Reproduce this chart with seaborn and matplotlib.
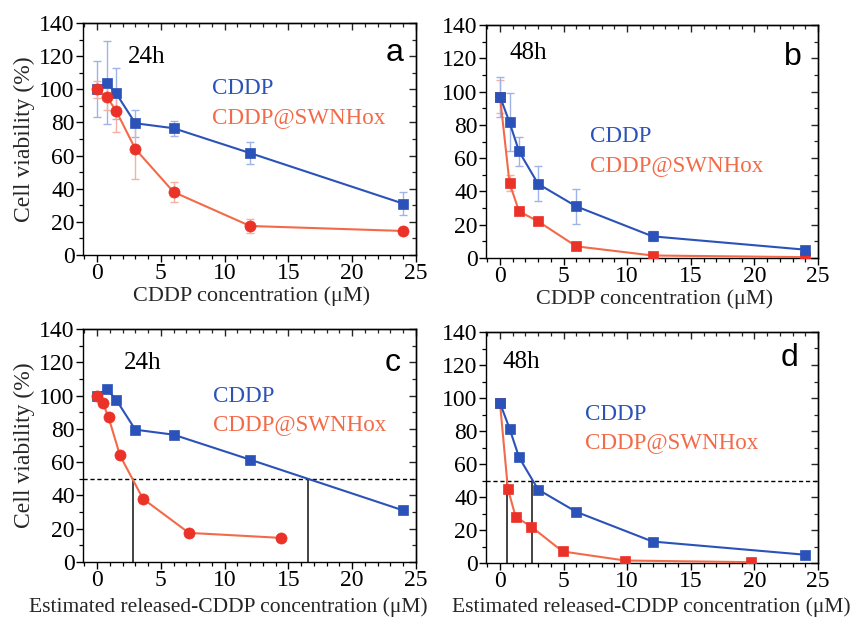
import numpy as np
import pandas as pd
import matplotlib
matplotlib.use("Agg")
import matplotlib.pyplot as plt
from matplotlib.ticker import MultipleLocator
import seaborn as sns

sns.set_theme(style="white")
plt.rcParams['font.family'] = ['Liberation Serif', 'DejaVu Serif']
plt.rcParams['mathtext.fontset'] = 'stix'

# ---------------- data ----------------
conc = [0, 0.75, 1.5, 3, 6, 12, 24]

# 24 h
cddp_24 = [100, 104, 97.5, 79.5, 76.5, 61.5, 31]
cddp_24_err = [17, 25, 15.5, 8, 4.5, 6.5, 7]
swnh_24 = [100, 95.5, 87, 64, 38, 17.5, 14.5]
swnh_24_err = [5, 8, 13, 18, 6, 4.5, 1]

# 48 h
cddp_48 = [97, 81.5, 64, 44.5, 31, 13, 5]
cddp_48_err = [12, 17.5, 9, 10.5, 10.5, 3, 1.5]
swnh_48 = [97, 45, 28, 22, 7, 1.5, 0.5]
swnh_48_err = [10, 5, 2, 1.5, 1, 1, 0.5]

# estimated released CDDP concentrations for CDDP@SWNHox
released_24 = [0, 0.45, 0.9, 1.8, 3.6, 7.2, 14.4]
released_48 = [0, 0.62, 1.23, 2.46, 4.92, 9.84, 19.7]

# IC50 guide lines
ic50_c = [2.85, 16.5]
ic50_d = [0.55, 2.5]

BLUE = "#2a52b8"
RED_M = "#ea3228"
RED_L = "#f36a48"
BLUE_E = "#9fb3e6"
RED_E = "#f4b0a0"

fig = plt.figure(figsize=(8.58, 6.19), dpi=100)
W, H = 858, 619


def make_ax(l, t, r, b):
    return fig.add_axes([l / W, 1 - b / H, (r - l) / W, (b - t) / H])


axs = {
    'a': make_ax(83, 23, 416, 255),
    'b': make_ax(486, 25, 818, 258),
    'c': make_ax(83, 329, 416, 562),
    'd': make_ax(486, 332, 818, 563),
}

FS = 17


def style(ax):
    ax.set_xlim(-1.1, 25)
    ax.set_ylim(0, 140)
    ax.xaxis.set_major_locator(MultipleLocator(5))
    ax.xaxis.set_minor_locator(MultipleLocator(1))
    ax.yaxis.set_major_locator(MultipleLocator(20))
    ax.yaxis.set_minor_locator(MultipleLocator(10))
    ax.tick_params(which='both', direction='out', bottom=True, left=True,
                   top=False, right=False, labelsize=FS, colors='black', pad=1)
    ax.tick_params(which='major', length=5, width=1.0)
    ax.tick_params(which='minor', length=3, width=0.9)
    for s in ax.spines.values():
        s.set_color('black')
        s.set_linewidth(1.0)
    sec = ax.secondary_xaxis('top')
    sec.xaxis.set_major_locator(MultipleLocator(5))
    sec.xaxis.set_minor_locator(MultipleLocator(1))
    sec.tick_params(which='both', direction='in', labeltop=False)
    sec.tick_params(which='major', length=5, width=1.0)
    sec.tick_params(which='minor', length=3, width=0.9)
    sec.spines['top'].set_linewidth(1.0)
    secy = ax.secondary_yaxis('right')
    secy.yaxis.set_major_locator(MultipleLocator(20))
    secy.yaxis.set_minor_locator(MultipleLocator(10))
    secy.tick_params(which='both', direction='in', labelright=False)
    secy.tick_params(which='major', length=5, width=1.0)
    secy.tick_params(which='minor', length=3, width=0.9)
    secy.spines['right'].set_linewidth(1.0)
    ax.grid(False)


def series(ax, x, y, err, color_line, color_marker, ecolor, marker, ms, z):
    if err is not None:
        ax.errorbar(x, y, yerr=err, fmt='none', ecolor=ecolor, elinewidth=1.0,
                    capsize=3, capthick=1.0, zorder=2)
    df = pd.DataFrame({'x': x, 'y': y})
    sns.lineplot(data=df, x='x', y='y', ax=ax, color=color_line, lw=1.5,
                 marker=marker, markersize=ms, markerfacecolor=color_marker,
                 markeredgecolor=color_marker, markeredgewidth=0.5,
                 estimator=None, sort=False, zorder=z)


# panel a (red drawn over blue)
ax = axs['a']
series(ax, conc, cddp_24, cddp_24_err, BLUE, BLUE, BLUE_E, 's', 7, 3)
series(ax, conc, swnh_24, swnh_24_err, RED_L, RED_M, RED_E, 'o', 8, 4)

# panel b (blue drawn over red)
ax = axs['b']
series(ax, conc, swnh_48, swnh_48_err, RED_L, RED_M, RED_E, 's', 7, 3)
series(ax, conc, cddp_48, cddp_48_err, BLUE, BLUE, BLUE_E, 's', 7, 4)

# panel c
ax = axs['c']
ax.axhline(50, color='black', ls=(0, (3, 2)), lw=1.0, zorder=1)
for v in ic50_c:
    ax.plot([v, v], [0, 50], color='#222222', lw=1.2, zorder=1)
series(ax, conc, cddp_24, None, BLUE, BLUE, BLUE_E, 's', 7, 3)
series(ax, released_24, swnh_24, None, RED_L, RED_M, RED_E, 'o', 8, 4)

# panel d
ax = axs['d']
ax.axhline(50, color='black', ls=(0, (3, 2)), lw=1.0, zorder=1)
for v in ic50_d:
    ax.plot([v, v], [0, 50], color='#222222', lw=1.2, zorder=1)
series(ax, released_48, swnh_48, None, RED_L, RED_M, RED_E, 's', 7, 3)
series(ax, conc, cddp_48, None, BLUE, BLUE, BLUE_E, 's', 7, 4)

for k, ax in axs.items():
    style(ax)
    ax.set_ylabel('')
    ax.set_xlabel('')

axs['a'].set_ylabel('Cell viability (%)', fontsize=FS, labelpad=3)
axs['c'].set_ylabel('Cell viability (%)', fontsize=FS, labelpad=3)


def ftext(x, y, s, **kw):
    fig.text(x / W, 1 - y / H, s, **kw)


# x-axis titles
ftext(252, 296, 'CDDP concentration (μM)', fontsize=16, ha='center', va='center')
ftext(655, 299, 'CDDP concentration (μM)', fontsize=16, ha='center', va='center')
ftext(228, 607, 'Estimated released-CDDP concentration (μM)', fontsize=15.5,
      ha='center', va='center')
ftext(651, 607, 'Estimated released-CDDP concentration (μM)', fontsize=15.5,
      ha='center', va='center')

for name, (hx, hy, ht), (lx, ly), (cx, cy1, cy2) in [
    ('a', (147, 57, '24h'), (395, 53), (212, 89, 118)),
    ('b', (528, 53, '48h'), (793, 57), (590, 137, 166)),
    ('c', (143, 363, '24h'), (393, 363), (213, 396, 425)),
    ('d', (521, 362, '48h'), (789, 358), (585, 414, 443)),
]:
    ftext(hx, hy, ht, fontsize=18, ha='center', va='center', color='black')
    ftext(lx, ly, name, fontsize=23, ha='center', va='center', color='black',
          family=['Liberation Sans', 'DejaVu Sans'])
    ftext(cx, cy1, 'CDDP', fontsize=16.6, ha='left', va='center', color=BLUE)
    ftext(cx, cy2, 'CDDP@SWNHox', fontsize=16.6, ha='left', va='center', color=RED_L)

fig.savefig('out.png', dpi=100, facecolor='white')
